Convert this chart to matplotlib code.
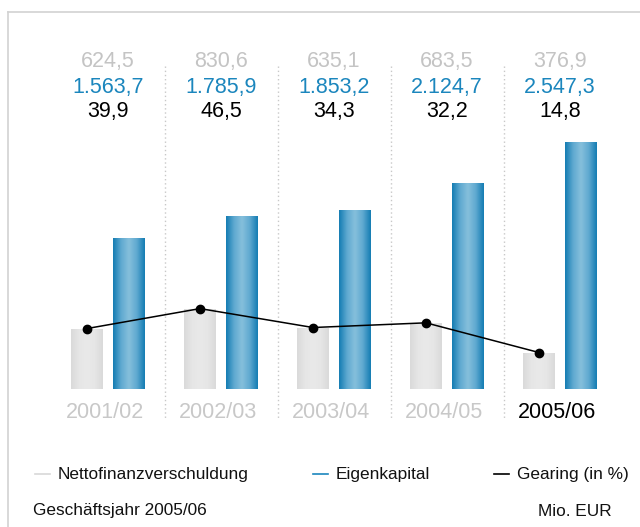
import matplotlib
matplotlib.use("Agg")
import matplotlib.pyplot as plt
import matplotlib.transforms as mtransforms
from matplotlib.colors import LinearSegmentedColormap
import numpy as np

plt.rcParams['font.family'] = ['Liberation Sans', 'DejaVu Sans']

# data
years = ['2001/02', '2002/03', '2003/04', '2004/05', '2005/06']
nettofinanz = [624.5, 830.6, 635.1, 683.5, 376.9]
eigenkapital = [1563.7, 1785.9, 1853.2, 2124.7, 2547.3]
gearing = [39.9, 46.5, 34.3, 32.2, 14.8]

nf_labels = ['624,5', '830,6', '635,1', '683,5', '376,9']
ek_labels = ['1.563,7', '1.785,9', '1.853,2', '2.124,7', '2.547,3']
gr_labels = ['39,9', '46,5', '34,3', '32,2', '14,8']

W, H = 640, 527
fig = plt.figure(figsize=(W / 100, H / 100), dpi=100)

# frame lines (top and left)
frame = '#d2d2d2'
fig.add_artist(plt.Line2D([8 / W, 1], [1 - 12 / H, 1 - 12 / H], color=frame, lw=1.2))
fig.add_artist(plt.Line2D([8 / W, 8 / W], [0, 1 - 12 / H], color=frame, lw=1.2))

# main axes in pixel geometry
left_px, right_px = 51.5, 616.5
bottom_px, top_px = 389, 12
ax = fig.add_axes([left_px / W, (H - bottom_px) / H,
                   (right_px - left_px) / W, (bottom_px - top_px) / H])
ax.set_axis_off()

x = np.arange(len(years))
off = 0.186
bw = 0.283

blue_cmap = LinearSegmentedColormap.from_list('b', ['#157db3', '#5fa9d0', '#86c0dc', '#5fa9d0', '#157db3'])
gray_cmap = LinearSegmentedColormap.from_list('g', ['#dadada', '#e6e6e6', '#e9e9e9', '#e6e6e6', '#dadada'])
grad = np.linspace(0, 1, 64).reshape(1, -1)

gray_bars = ax.bar(x - off, nettofinanz, width=bw, color='#e2e2e2', zorder=2)
blue_bars = ax.bar(x + off, eigenkapital, width=bw, color='#4a9cc8', zorder=2)

for bars, cmap in ((gray_bars, gray_cmap), (blue_bars, blue_cmap)):
    for b in bars:
        x0, w, h = b.get_x(), b.get_width(), b.get_height()
        im = ax.imshow(grad, extent=(x0, x0 + w, 0, h), cmap=cmap,
                       aspect='auto', zorder=3, interpolation='bicubic')
        im.set_clip_path(b)

# gearing line drawn at the top of the net debt bars
ax.plot(x - off, nettofinanz, color='black', lw=1.1, marker='o', ms=6, zorder=5)

ax.set_xlim(-0.5, len(years) - 0.5)
ax.set_ylim(0, (bottom_px - top_px) * 10.33)

# dotted separators
trans = mtransforms.blended_transform_factory(ax.transData, fig.transFigure)
for i in range(len(years) - 1):
    ax.plot([i + 0.5, i + 0.5], [1 - 66 / H, 1 - 419 / H], transform=trans,
            color='#c8c8c8', lw=1, ls=(0, (1, 2)), clip_on=False)

fs = 15.5
for i in x:
    ax.text(i, 1 - 62 / H, nf_labels[i], transform=trans, ha='center', va='center',
            fontsize=fs, color='#c4c4c4')
    ax.text(i, 1 - 88 / H, ek_labels[i], transform=trans, ha='center', va='center',
            fontsize=fs, color='#1b86bd')
    ax.text(i, 1 - 111 / H, gr_labels[i], transform=trans, ha='center', va='center',
            fontsize=fs, color='black')
    ax.text(i - 0.03, 1 - 412 / H, years[i], transform=trans, ha='center', va='center',
            fontsize=fs, color='black' if i == len(years) - 1 else '#c8c8c8')

# legend
lfs = 12.4
ly = 1 - 474 / H
legend_items = [(35, 50, '#d8d8d8', 'Nettofinanzverschuldung'),
                (313, 328, '#1b86bd', 'Eigenkapital'),
                (494, 509, 'black', 'Gearing (in %)')]
for x0, x1, c, label in legend_items:
    fig.add_artist(plt.Line2D([x0 / W, x1 / W], [ly, ly], color=c, lw=1.2))
    fig.text((x1 + 8) / W, ly, label, ha='left', va='center', fontsize=lfs, color='#111111')

fig.text(33 / W, 1 - 511 / H, 'Geschäftsjahr 2005/06', ha='left', va='center',
         fontsize=lfs, color='#111111')
fig.text(612 / W, 1 - 511 / H, 'Mio. EUR', ha='right', va='center',
         fontsize=lfs, color='#111111')

fig.savefig('out.png', dpi=100)
